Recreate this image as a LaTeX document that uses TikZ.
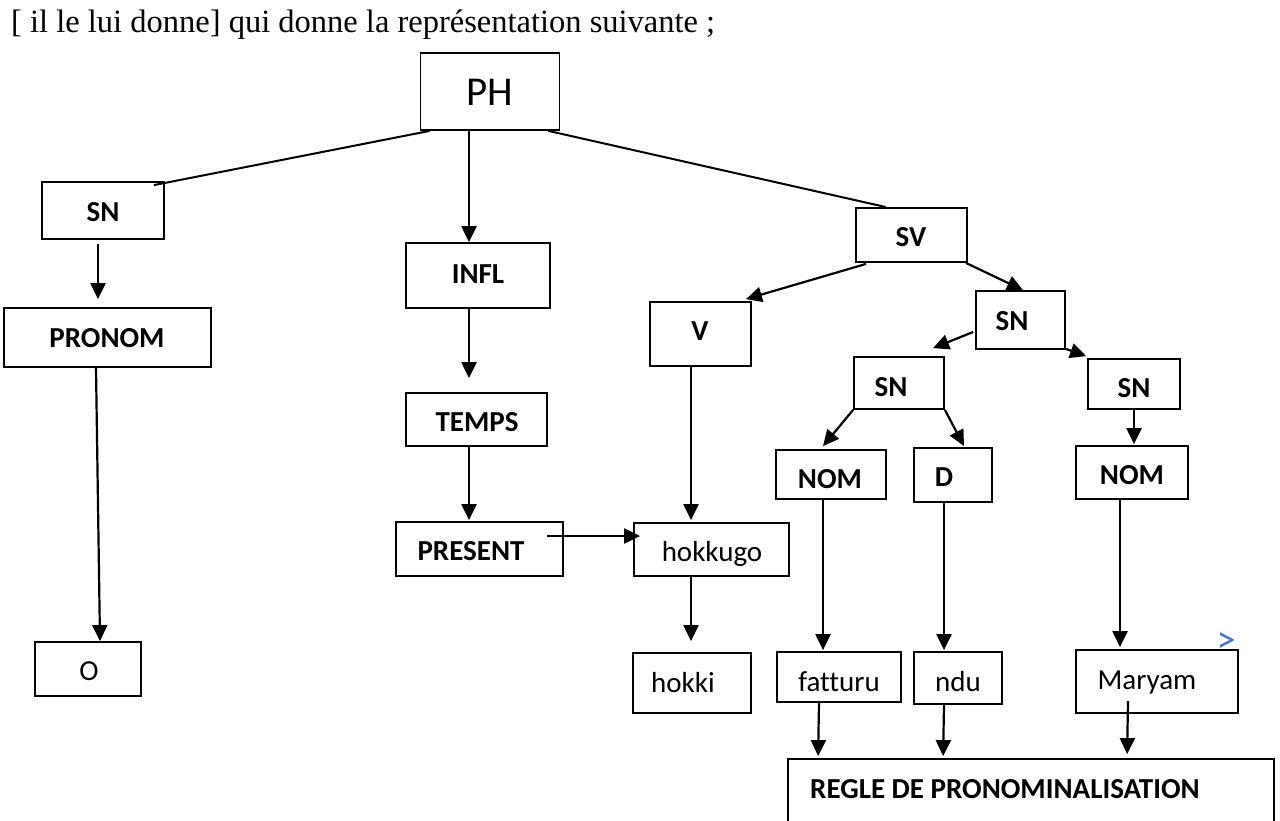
\documentclass[tikz,border=0pt]{standalone}
\usepackage{fontspec}
\setmainfont{Liberation Serif}
\newfontfamily\calfont[Ligatures=NoCommon]{Carlito}
\usetikzlibrary{arrows.meta,calc}
\definecolor{gtblue}{RGB}{68,114,196}
\begin{document}
\begin{tikzpicture}[x=1pt,y=-1pt,
  box/.style={draw, line width=1.8pt, inner sep=0pt},
  lab/.style={inner sep=0pt, anchor=base, font=\calfont\bfseries\fontsize{29}{35}\selectfont},
  wlab/.style={inner sep=0pt, anchor=base, font=\calfont\fontsize{29}{35}\selectfont},
  arr/.style={line width=2.2pt, -{Triangle[length=16pt,width=15pt]}},
  ln/.style={line width=2pt},
]
\useasboundingbox (0,0) rectangle (1280,820);

% title
\node[anchor=base west, inner sep=0pt, font=\fontsize{32.5}{39}\selectfont] (title) at (11,32)
  {[ il le lui donne] qui donne la représentation suivante ;};

% boxes
\node[box, minimum width=139pt, minimum height=77pt] (PH) at (490,91.5) {};
\node[box, minimum width=122pt, minimum height=57pt] (SNa) at (103,210.5) {};
\node[box, minimum width=207pt, minimum height=59pt] (PRONOM) at (107.5,337.5) {};
\node[box, minimum width=106pt, minimum height=54pt] (O) at (88,669) {};
\node[box, minimum width=144pt, minimum height=65pt] (INFL) at (478,275.5) {};
\node[box, minimum width=141pt, minimum height=53pt] (TEMPS) at (476.5,419.5) {};
\node[box, minimum width=167pt, minimum height=54pt] (PRESENT) at (479.5,549) {};
\node[box, minimum width=155pt, minimum height=53pt] (hokkugo) at (711.5,549.5) {};
\node[box, minimum width=118pt, minimum height=60pt] (hokki) at (692,683) {};
\node[box, minimum width=101pt, minimum height=64pt] (V) at (700.5,334) {};
\node[box, minimum width=111pt, minimum height=54pt] (SV) at (911.5,235) {};
\node[box, minimum width=89pt, minimum height=58pt] (SNb) at (1020.5,320) {};
\node[box, minimum width=90pt, minimum height=52pt] (SNc) at (899,383) {};
\node[box, minimum width=92pt, minimum height=50pt] (SNd) at (1134,384) {};
\node[box, minimum width=110pt, minimum height=49pt] (NOMa) at (831,474.5) {};
\node[box, minimum width=78pt, minimum height=54pt] (D) at (953,475) {};
\node[box, minimum width=112pt, minimum height=53pt] (NOMb) at (1132,472.5) {};
\node[box, minimum width=124pt, minimum height=50pt] (fatturu) at (839,677) {};
\node[box, minimum width=88pt, minimum height=52pt] (ndu) at (958,678) {};
\node[box, minimum width=162pt, minimum height=63pt] (Maryam) at (1157,681.5) {};
\node[box, minimum width=486pt, minimum height=80pt] (REGLE) at (1031,799) {};

% labels
\node[wlab, font=\calfont\fontsize{41}{48}\selectfont] (tPH) at (490,105) {PH};
\node[lab] (tSNa) at (103,221) {SN};
\node[lab] (tPRONOM) at (107,347.5) {PRONOM};
\node[wlab] (tO) at (89,680.5) {O};
\node[lab] (tINFL) at (478,283.5) {INFL};
\node[lab] (tTEMPS) at (477,431.5) {TEMPS};
\node[lab] (tPRESENT) at (471,560) {PRESENT};
\node[wlab] (thokkugo) at (712,561.5) {hokkugo};
\node[wlab] (thokki) at (683,692.5) {hokki};
\node[lab] (tV) at (700,340.5) {V};
\node[lab] (tSV) at (911,246.5) {SV};
\node[lab] (tSNb) at (1012,330) {SN};
\node[lab] (tSNc) at (891,396) {SN};
\node[lab] (tSNd) at (1134,397) {SN};
\node[lab] (tNOMa) at (830,488) {NOM};
\node[lab] (tD) at (944,486) {D};
\node[lab] (tNOMb) at (1132,484) {NOM};
\node[wlab] (tfatturu) at (839,691.5) {fatturu};
\node[wlab] (tndu) at (958,691.5) {ndu};
\node[wlab] (tMaryam) at (1147,689.5) {Maryam};
\node[lab, anchor=base west] (tREGLE) at (810,798.5) {REGLE DE PRONOMINALISATION};
\node[inner sep=0pt, text=gtblue, font=\calfont\fontsize{38}{44}\selectfont] (gt) at (1226,643) {>};

% connectors
\draw[ln] ($(PH.south west)+(10,0)$) -- ($(SNa.north east)+(-11,4)$);
\draw[arr] ($(PH.south)+(-21,0)$) -- ($(INFL.north)+(-9,0)$);
\draw[ln] ($(PH.south east)+(-12,0)$) -- ($(SV.north)+(-25.5,0)$);
\draw[arr] ($(SNa.south)+(-5,4)$) -- ($(PRONOM.north)+(-9.5,-8)$);
\draw[arr] ($(PRONOM.south)+(-11.5,0)$) -- ($(O.north)+(12,0)$);
\draw[arr] ($(INFL.south)+(-9,0)$) -- ($(TEMPS.north)+(-7.5,-14)$);
\draw[arr] ($(TEMPS.south)+(-7.5,0)$) -- ($(PRESENT.north)+(-10.5,-1)$);
\draw[arr] ($(PRESENT.center)+(67.5,-13)$) -- ($(hokkugo.west)+(7,-13.5)$);
\draw[arr] ($(SV.south west)+(11,1)$) -- ($(V.north east)+(-6,-2)$);
\draw[arr] ($(V.south)+(-9.5,0)$) -- ($(hokkugo.north)+(-20.5,-2)$);
\draw[arr] ($(hokkugo.south)+(-20.5,0)$) -- ($(hokki.north)+(-1,-11)$);
\draw[arr] ($(SV.south east)+(-2,0)$) -- ($(SNb.north)+(2.5,0)$);
\draw[arr] ($(SNb.west)+(-2,12)$) -- ($(SNc.north)+(34,-8)$);
\draw[arr] ($(SNb.south east)+(0,-1)$) -- ($(SNd.north west)+(-1,-2)$);
\draw[arr] (SNc.south west) -- ($(NOMa.north)+(-8,-3)$);
\draw[arr] (SNc.south east) -- ($(D.north)+(11,-1)$);
\draw[arr] (SNd.south) -- ($(NOMb.north)+(2,-1)$);
\draw[arr] ($(NOMa.south)+(-8,0)$) -- ($(fatturu.north)+(-16,-1)$);
\draw[arr] ($(D.south)+(-9,0)$) -- ($(ndu.north)+(-14,-1)$);
\draw[arr] ($(NOMb.south)+(-12,0)$) -- ($(Maryam.north)+(-37,-2)$);
\draw[arr] ($(fatturu.south)+(-20,0)$) -- ($(REGLE.north west)+(31,-2)$);
\draw[arr] ($(ndu.south)+(-14,0)$) -- ($(REGLE.north west)+(156,-2)$);
\draw[arr] ($(Maryam.center)+(-29,19.5)$) -- ($(REGLE.north west)+(340,-4)$);
\end{tikzpicture}
\end{document}
